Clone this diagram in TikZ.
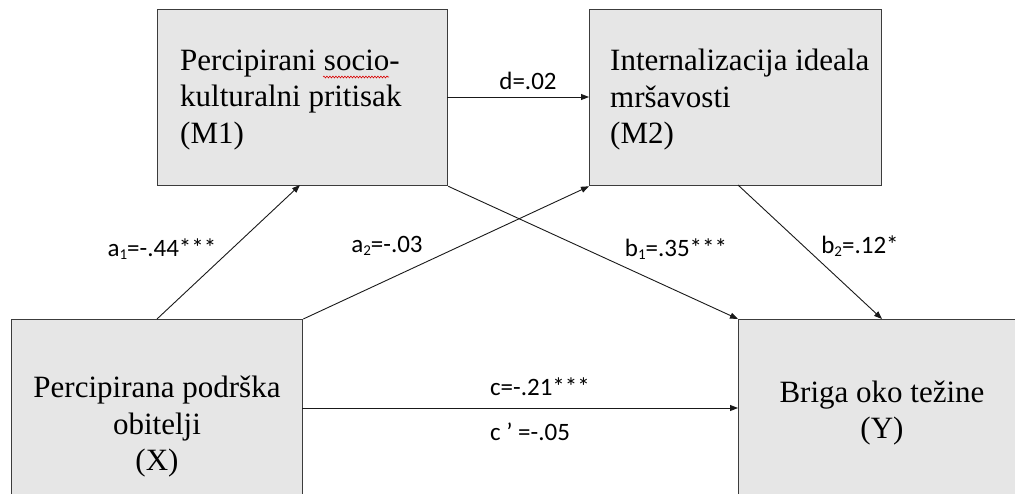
\documentclass[tikz,border=0pt]{standalone}
\usepackage{fontspec}
\setmainfont{Liberation Serif}
\newfontfamily\lblfont{Carlito}
\usetikzlibrary{arrows.meta,decorations.pathmorphing}
\definecolor{boxfill}{HTML}{E6E6E6}
\definecolor{boxline}{HTML}{3C3C3C}
\newcommand{\lsub}[1]{\raisebox{-0.28ex}{\fontsize{15}{15}\selectfont #1}}
\tikzset{
  box/.style={draw=boxline, line width=1.3pt, fill=boxfill, inner sep=0pt, anchor=north west},
  boxtext/.style={inner sep=0pt, font=\fontsize{31}{36.5}\selectfont},
  lbl/.style={inner sep=0pt, anchor=base, font=\lblfont\fontsize{25}{30}\selectfont},
  arr/.style={draw=black!90, line width=0.9pt, -{Triangle[length=8pt,width=6pt]}},
}
\begin{document}
\begin{tikzpicture}[x=1pt,y=-1pt]
\useasboundingbox (0,0) rectangle (1015,493);
% boxes
\node[box, minimum width=290pt, minimum height=176pt] (m1) at (157,9) {};
\node[box, minimum width=292pt, minimum height=176pt] (m2) at (589,9) {};
\node[box, minimum width=291pt, minimum height=190pt] (x) at (11,319) {};
\node[box, minimum width=300pt, minimum height=190pt] (y) at (738,319) {};
% texts
\node[boxtext, anchor=west, align=left] (m1t) at (180,100) {Percipirani socio-\\kulturalni pritisak\\(M1)};
\node[boxtext, anchor=west, align=left] (m2t) at (610,100) {Internalizacija ideala\\mršavosti\\(M2)};
\node[boxtext, align=center] (xt) at (157,427) {Percipirana podrška\\obitelji\\(X)};
\node[boxtext, align=center] (yt) at (882,413) {Briga oko težine\\(Y)};
% spell-check underline
\coordinate (sp1) at (323,77);
\coordinate (sp2) at (389,77);
\draw[red!85!black, line width=0.6pt, decorate, decoration={snake, amplitude=0.9pt, segment length=3pt}] (sp1) -- (sp2);
% connector end points
\coordinate (m1bot) at (300,185);
\coordinate (m2bot) at (738,185);
\coordinate (ytop) at (882,319);
\coordinate (xtop) at (157,319);
\coordinate (m1r) at (447,97);
\coordinate (xr) at (302,408);
% connectors
\draw[arr] (xtop) -- (m1bot);
\draw[arr] (x.north east) -- (m2.south west);
\draw[arr] (m1r) -- (m2.west |- m1r);
\draw[arr] (m1.south east) -- (y.north west);
\draw[arr] (m2bot) -- (ytop);
\draw[arr] (xr) -- (y.west |- xr);
% labels
\node[lbl] (ld) at (528,89) {d=.02};
\node[lbl] (la1) at (162,256) {a\lsub{1}=-.44***};
\node[lbl] (la2) at (387,252) {a\lsub{2}=-.03};
\node[lbl] (lb1) at (676,256) {b\lsub{1}=.35***};
\node[lbl] (lb2) at (860,253) {b\lsub{2}=.12*};
\node[lbl] (lc) at (540,395) {c=-.21***};
\node[lbl] (lcp) at (530,440) {c ’ =-.05};
\end{tikzpicture}
\end{document}
